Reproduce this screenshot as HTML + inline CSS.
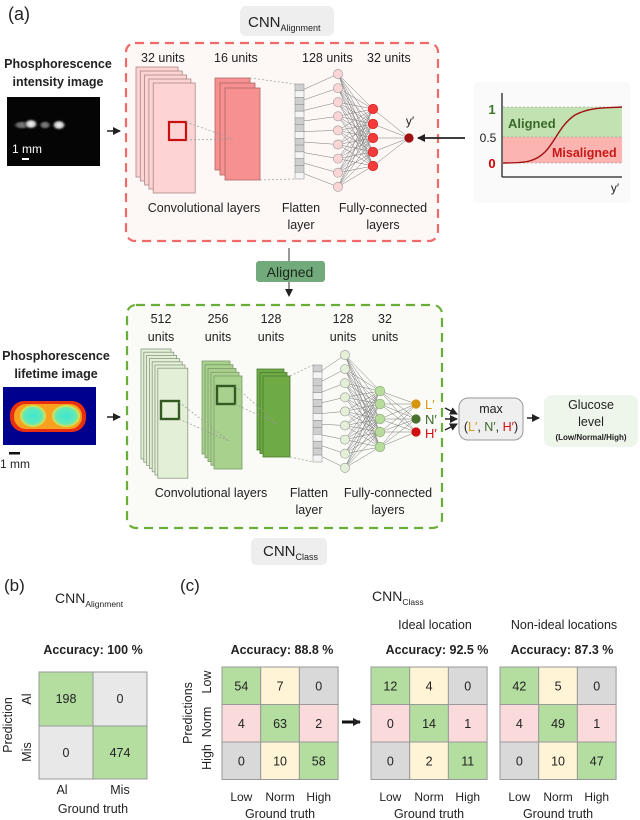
<!DOCTYPE html>
<html><head><meta charset="utf-8"><style>
html,body{margin:0;padding:0;background:#fff;width:640px;height:820px;overflow:hidden}
svg{display:block;font-family:"Liberation Sans",sans-serif}
</style></head><body>
<svg id="s" width="640" height="820" viewBox="0 0 640 820" xmlns="http://www.w3.org/2000/svg">
<defs>
<marker id="ah" markerWidth="8" markerHeight="8" refX="7" refY="4" orient="auto" markerUnits="userSpaceOnUse"><path d="M0,0 L8,4 L0,8 z" fill="#222"/></marker>
<radialGradient id="glow"><stop offset="0" stop-color="#fff"/><stop offset="0.5" stop-color="#bbb"/><stop offset="1" stop-color="#000" stop-opacity="0"/></radialGradient>
<radialGradient id="cy"><stop offset="0" stop-color="#40e8d0"/><stop offset="0.7" stop-color="#60e8b8"/><stop offset="1" stop-color="#e8e040"/></radialGradient>
</defs>

<!-- (a) -->
<text x="8" y="20" font-size="18" fill="#222">(a)</text>
<rect x="240" y="6" width="94" height="30" rx="6" fill="#eeeeee"/>
<text x="248" y="27" font-size="15" fill="#222">CNN<tspan font-size="9" dy="4">Alignment</tspan></text>

<rect x="126" y="43" width="312" height="198" rx="9" fill="#fdf8f6" stroke="#f06a6a" stroke-width="2.2" stroke-dasharray="9,6"/>

<text x="58" y="68" font-size="12.5" font-weight="bold" text-anchor="middle" fill="#222">Phosphorescence</text>
<text x="58" y="86" font-size="12.5" font-weight="bold" text-anchor="middle" fill="#222">intensity image</text>
<rect x="7" y="97" width="93" height="69" fill="#050505"/>
<ellipse cx="22" cy="125" rx="10" ry="5" fill="url(#glow)" opacity="0.5"/>
<ellipse cx="31" cy="124" rx="8" ry="6" fill="url(#glow)"/>
<ellipse cx="45" cy="125" rx="7" ry="5" fill="url(#glow)" opacity="0.5"/>
<ellipse cx="59" cy="125" rx="8" ry="6" fill="url(#glow)"/>
<text x="12" y="153" font-size="12" fill="#fff">1 mm</text>
<rect x="22" y="158" width="7" height="2" fill="#fff"/>
<line x1="107" y1="131" x2="120" y2="131" stroke="#222" stroke-width="1.5" marker-end="url(#ah)"/>

<g font-size="12.5" fill="#222">
<text x="141" y="62">32 units</text>
<text x="214" y="62">16 units</text>
<text x="302" y="62">128 units</text>
<text x="367" y="62">32 units</text>
</g>
<g id="stackR1" fill="#fdd3d3" stroke="#a88" stroke-width="0.8"></g>
<rect x="169" y="122" width="17" height="18" fill="none" stroke="#c81010" stroke-width="2.2"/>
<g id="stackR2" fill="#f79191" stroke="#a66" stroke-width="0.8"></g>
<g stroke="#999" stroke-width="0.7" stroke-dasharray="2,2" fill="none">
<line x1="186" y1="122" x2="233" y2="139"/><line x1="186" y1="140" x2="233" y2="139"/>
<line x1="250" y1="78" x2="295" y2="84"/><line x1="260" y1="180" x2="295" y2="179"/>
</g>
<g id="flatR"></g>
<g id="netR"></g>
<text x="410" y="125" font-size="12" text-anchor="middle" fill="#222">y′</text>
<line x1="465" y1="138" x2="418" y2="138" stroke="#222" stroke-width="1.8" marker-end="url(#ah)"/>

<!-- chart -->
<rect x="474" y="82" width="156" height="121" rx="4" fill="#fafafa"/>
<rect x="503" y="107" width="119" height="30" fill="#c3e2b1"/>
<rect x="503" y="137" width="119" height="26" fill="#fbb4b0"/>
<g stroke="#888" stroke-width="0.6" stroke-dasharray="2,2"><line x1="503" y1="107" x2="622" y2="107"/><line x1="503" y1="137" x2="622" y2="137"/><line x1="503" y1="163" x2="622" y2="163"/></g>
<path d="M503,163 C525,163 535,162 545,152 C555,142 560,125 575,115 C590,107 605,108 622,107" fill="none" stroke="#a01010" stroke-width="1.4"/>
<line x1="502" y1="93" x2="502" y2="177" stroke="#222" stroke-width="1.3"/>
<line x1="502" y1="177" x2="622" y2="177" stroke="#222" stroke-width="1.3"/>
<text x="492" y="114" font-size="13" font-weight="bold" fill="#3a7a2a" text-anchor="middle">1</text>
<text x="488" y="142" font-size="12" fill="#222" text-anchor="middle">0.5</text>
<text x="492" y="168" font-size="13" font-weight="bold" fill="#c00" text-anchor="middle">0</text>
<text x="508" y="128" font-size="13" font-weight="bold" fill="#3a6a2a">Aligned</text>
<text x="552" y="157" font-size="12.5" font-weight="bold" fill="#c81818">Misaligned</text>
<text x="615" y="192" font-size="12" fill="#222" text-anchor="middle">y′</text>

<g font-size="12.5" fill="#222" text-anchor="middle">
<text x="204" y="212">Convolutional layers</text>
<text x="301" y="212">Flatten</text><text x="301" y="229">layer</text>
<text x="383" y="212">Fully-connected</text><text x="383" y="229">layers</text>
</g>

<line x1="289" y1="248" x2="289" y2="261" stroke="#333" stroke-width="1"/>
<rect x="256" y="261" width="69" height="21" rx="3" fill="#72aa7c"/>
<text x="290" y="277" font-size="14" text-anchor="middle" fill="#1a2a1a">Aligned</text>
<line x1="289" y1="282" x2="289" y2="296" stroke="#333" stroke-width="1" marker-end="url(#ah)"/>

<!-- green box -->
<rect x="127" y="305" width="315" height="223" rx="9" fill="#fafaf6" stroke="#6aae3a" stroke-width="2.2" stroke-dasharray="9,6"/>
<g font-size="12.5" fill="#222" text-anchor="middle">
<text x="161" y="323">512</text><text x="161" y="341">units</text>
<text x="218" y="323">256</text><text x="218" y="341">units</text>
<text x="271" y="323">128</text><text x="271" y="341">units</text>
<text x="343" y="323">128</text><text x="343" y="341">units</text>
<text x="385" y="323">32</text><text x="385" y="341">units</text>
</g>
<text x="56" y="360" font-size="12.5" font-weight="bold" text-anchor="middle" fill="#222">Phosphorescence</text>
<text x="56" y="378" font-size="12.5" font-weight="bold" text-anchor="middle" fill="#222">lifetime image</text>
<rect x="3" y="387" width="93" height="58" fill="#00008e"/>
<rect x="10" y="401" width="76" height="31" rx="14" fill="#e83010"/>
<rect x="14" y="404" width="68" height="25" rx="12" fill="#f8a020"/>
<ellipse cx="33" cy="416" rx="13" ry="11" fill="url(#cy)"/>
<ellipse cx="66" cy="416" rx="14" ry="11" fill="url(#cy)"/>
<text x="0" y="468" font-size="12" fill="#222">1 mm</text>
<rect x="9" y="452" width="11" height="2.5" fill="#111"/>
<line x1="107" y1="417" x2="120" y2="417" stroke="#222" stroke-width="1.5" marker-end="url(#ah)"/>

<g id="stackG1" fill="#e3f0d7" stroke="#8a9a80" stroke-width="0.8"></g>
<rect x="161" y="401" width="18" height="18" fill="none" stroke="#345a24" stroke-width="2.4"/>
<g id="stackG2" fill="#a9d18e" stroke="#7a9a6a" stroke-width="0.8"></g>
<rect x="217" y="386" width="18" height="18" fill="none" stroke="#345a24" stroke-width="2.4"/>
<g id="stackG3" fill="#6eab45" stroke="#4a7a30" stroke-width="0.8"></g>
<g stroke="#999" stroke-width="0.7" stroke-dasharray="2,2" fill="none">
<line x1="179" y1="402" x2="229" y2="441"/><line x1="179" y1="419" x2="229" y2="441"/>
<line x1="235" y1="386" x2="277" y2="424"/><line x1="235" y1="404" x2="277" y2="424"/>
<line x1="290" y1="376" x2="313" y2="365"/><line x1="290" y1="457" x2="313" y2="462"/>
</g>
<g id="flatG"></g>
<g id="netG"></g>
<g font-size="13">
<text x="425" y="409" fill="#d89a10">L′</text>
<text x="425" y="424" fill="#3a6a2a">N′</text>
<text x="425" y="438" fill="#d01010">H′</text>
</g>
<line x1="445" y1="408" x2="457" y2="414" stroke="#222" stroke-width="1.5" marker-end="url(#ah)"/>
<line x1="445" y1="419" x2="457" y2="419" stroke="#222" stroke-width="1.5" marker-end="url(#ah)"/>
<line x1="445" y1="430" x2="457" y2="424" stroke="#222" stroke-width="1.5" marker-end="url(#ah)"/>
<rect x="459" y="398" width="64" height="42" rx="9" fill="#efefef" stroke="#999" stroke-width="1"/>
<text x="491" y="413" font-size="12.5" text-anchor="middle" fill="#222">max</text>
<text x="491" y="431" font-size="12.5" text-anchor="middle" fill="#222">(<tspan fill="#d89a10">L′</tspan>, <tspan fill="#3a6a2a">N′</tspan>, <tspan fill="#d01010">H′</tspan>)</text>
<line x1="527" y1="418" x2="539" y2="418" stroke="#222" stroke-width="1.5" marker-end="url(#ah)"/>
<rect x="544" y="395" width="94" height="52" rx="8" fill="#eef5ea"/>
<text x="591" y="409" font-size="12.5" text-anchor="middle" fill="#222">Glucose</text>
<text x="591" y="426" font-size="12.5" text-anchor="middle" fill="#222">level</text>
<text x="591" y="440" font-size="8" font-weight="bold" text-anchor="middle" fill="#222">(Low/Normal/High)</text>

<g font-size="12.5" fill="#222" text-anchor="middle">
<text x="211" y="497">Convolutional layers</text>
<text x="309" y="497">Flatten</text><text x="309" y="514">layer</text>
<text x="388" y="497">Fully-connected</text><text x="388" y="514">layers</text>
</g>
<rect x="251" y="538" width="76" height="27" rx="5" fill="#eeeeee"/>
<text x="263" y="556" font-size="15" fill="#222">CNN<tspan font-size="9" dy="4">Class</tspan></text>

<!-- (b) (c) -->
<text x="4" y="591" font-size="17" fill="#222">(b)</text>
<text x="55" y="603" font-size="14" fill="#222">CNN<tspan font-size="8.5" dy="4">Alignment</tspan></text>
<text x="180" y="591" font-size="17" fill="#222">(c)</text>
<text x="372" y="601" font-size="14" fill="#222">CNN<tspan font-size="8.5" dy="4">Class</tspan></text>
<text x="435" y="629" font-size="12.5" text-anchor="middle" fill="#222">Ideal location</text>
<text x="564" y="629" font-size="12.5" text-anchor="middle" fill="#222">Non-ideal locations</text>
<g font-size="12.5" font-weight="bold" text-anchor="middle" fill="#222">
<text x="93" y="654">Accuracy: 100 %</text>
<text x="282" y="654">Accuracy: 88.8 %</text>
<text x="437" y="654">Accuracy: 92.5 %</text>
<text x="562" y="654">Accuracy: 87.3 %</text>
</g>
<g stroke="#999" stroke-width="1" font-size="12.5">
<rect x="39" y="672" width="54" height="54" fill="#b3dea0"/>
<rect x="93" y="672" width="54" height="54" fill="#e8e8e8"/>
<rect x="39" y="726" width="54" height="53" fill="#e8e8e8"/>
<rect x="93" y="726" width="54" height="53" fill="#b3dea0"/>
</g>
<g font-size="12.5" text-anchor="middle" fill="#222">
<text x="66" y="703">198</text><text x="120" y="703">0</text>
<text x="66" y="757">0</text><text x="120" y="757">474</text>
<text x="62" y="794">Al</text><text x="120" y="794">Mis</text>
<text x="93" y="813">Ground truth</text>
<text transform="translate(12,725) rotate(-90)">Prediction</text>
<text transform="translate(31,699) rotate(-90)">Al</text>
<text transform="translate(31,752) rotate(-90)">Mis</text>
<text transform="translate(192,713) rotate(-90)">Predictions</text>
<text transform="translate(211,682) rotate(-90)">Low</text>
<text transform="translate(211,722) rotate(-90)">Norm</text>
<text transform="translate(211,757) rotate(-90)">High</text>
</g>
<line x1="342" y1="722" x2="360" y2="722" stroke="#111" stroke-width="3" marker-end="url(#ah)"/>
<g id="mats"></g>
</svg>
<script>
var NS="http://www.w3.org/2000/svg";
function el(p,t,a){var e=document.createElementNS(NS,t);for(var k in a)e.setAttribute(k,a[k]);p.appendChild(e);return e;}
function g(id){return document.getElementById(id);}
function stack(id,x,y,w,h,n,dx,dy){for(var i=0;i<n;i++)el(g(id),"rect",{x:x+i*dx,y:y+i*dy,width:w,height:h});}
stack("stackR1",136,67,42,110,5,4.3,4);
stack("stackR2",215,78,35,92,3,5,5);
stack("stackG1",141,349,30,110,7,2.8,3.2);
stack("stackG2",202,361,28,93,5,3,3.75);
stack("stackG3",257,369,27,81,3,3,3.5);
function flat(id,x,y1,y2){var p=g(id);var n=14,h=(y2-y1)/n;for(var i=0;i<n;i++)el(p,"rect",{x:x,y:y1+i*h,width:9,height:h,fill:i%3==1?"#f4f4f4":"#cfcfcf",stroke:"#888","stroke-width":0.5});}
flat("flatR",295,84,179);flat("flatG",313,365,462);
function net(id,fx,fy1,fy2,c1x,c1y,c2x,c2y,outs,f1,f2){
 var p=g(id);var lg=el(p,"g",{stroke:"#777","stroke-width":0.5});
 c1y.forEach(function(y,i){var fy=fy1+(fy2-fy1)*(i+0.5)/c1y.length;el(lg,"line",{x1:fx,y1:fy,x2:c1x,y2:y});
  c2y.forEach(function(y2){el(lg,"line",{x1:c1x,y1:y,x2:c2x,y2:y2});});});
 c2y.forEach(function(y2){outs.forEach(function(o){el(lg,"line",{x1:c2x,y1:y2,x2:o[0],y2:o[1]});});});
 c1y.forEach(function(y){el(p,"circle",{cx:c1x,cy:y,r:4.6,fill:f1,stroke:"#999","stroke-width":0.6});});
 c2y.forEach(function(y){el(p,"circle",{cx:c2x,cy:y,r:4.8,fill:f2,stroke:f2==="#f43a3a"?"#d02020":"#8aa878","stroke-width":0.6});});
 outs.forEach(function(o){el(p,"circle",{cx:o[0],cy:o[1],r:4.6,fill:o[2]});});
}
var r1=[],gg=[];for(var i=0;i<9;i++){r1.push(74+i*14.1);gg.push(355+i*14.1);}
net("netR",304,84,179,338,r1,373,[109,124,138,152,166],[[409,138,"#a01010"]],"#fcd6d6","#f43a3a");
net("netG",322,365,462,345,gg,380,[391,404,419,432,447],[[416,404,"#d8940c"],[416,419,"#4a7030"],[416,432,"#d01010"]],"#e3f0d7","#b7dc9c");
var GR="#b3dea0",YE="#fff4d6",PI="#fadadb",GY="#d9d9d9";
var cols=[[GR,YE,GY],[PI,GR,PI],[GY,YE,GR]];
function mat(x,vals){var p=g("mats");var w=38.7,h=37.5,y=667;
 for(var r=0;r<3;r++)for(var c=0;c<3;c++){el(p,"rect",{x:x+c*w,y:y+r*h,width:w,height:h,fill:cols[r][c],stroke:"#999","stroke-width":1});
  var t=el(p,"text",{x:x+c*w+w/2,y:y+r*h+h/2+4.5,"font-size":12.5,"text-anchor":"middle",fill:"#222"});t.textContent=vals[r*3+c];}
 ["Low","Norm","High"].forEach(function(s,c){var t=el(p,"text",{x:x+c*w+w/2,y:801,"font-size":12,"text-anchor":"middle",fill:"#222"});t.textContent=s;});
 var t=el(p,"text",{x:x+1.5*w,y:818,"font-size":12.5,"text-anchor":"middle",fill:"#222"});t.textContent="Ground truth";}
mat(222,[54,7,0,4,63,2,0,10,58]);
mat(371,[12,4,0,0,14,1,0,2,11]);
mat(500,[42,5,0,4,49,1,0,10,47]);
</script>
</body></html>
